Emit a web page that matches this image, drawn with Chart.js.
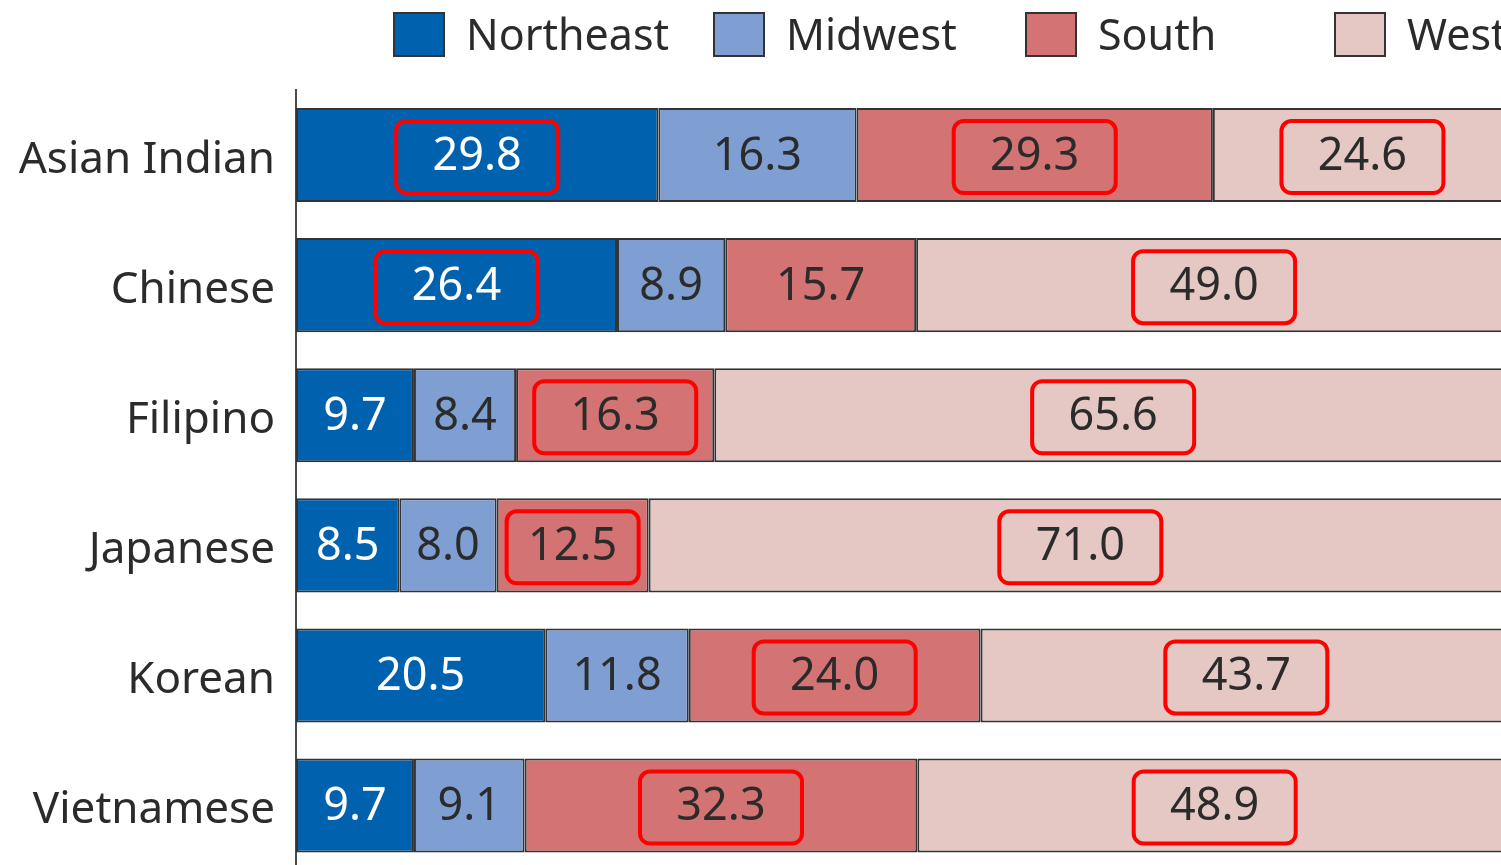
<!DOCTYPE html>
<html>
<head>
<meta charset="utf-8">
<title>Regional distribution by Asian group</title>
<script src="https://cdn.jsdelivr.net/npm/chart.js@4.4.0/dist/chart.umd.min.js"></script>
<style>
    html, body {
        margin: 0;
        padding: 0;
        background: #fff;
        overflow: hidden;
        width: 1501px;
        height: 865px;
    }
    #wrap {
        position: relative;
        width: 1514px;
        height: 918px;
    }
    #legend {
        position: absolute;
        top: 11px;
        left: 393px;
        display: flex;
        white-space: nowrap;
        font-family: 'Noto Sans', 'Open Sans', sans-serif;
        font-size: 43px;
        color: #2b2b2b;
        z-index: 2;
    }
    .legend-item {
        display: flex;
        align-items: center;
        line-height: 46px;
    }
    .legend-item:nth-child(1) { width: 320px; }
    .legend-item:nth-child(2) { width: 312px; }
    .legend-item:nth-child(3) { width: 309px; }
    .legend-item:nth-child(4) { width: 200px; }
    .legend-swatch {
        width: 52px;
        height: 45px;
        border: 2px solid #333;
        box-sizing: border-box;
        margin-right: 21px;
        flex: none;
    }
    /* taller than the window: the category scale keeps ~47px under the
       last label, and the reference crops the chart at the bottom */
    #chartBox {
        position: absolute;
        left: 0;
        top: 0;
        width: 1514px;
        height: 918px;
    }
</style>
</head>
<body>
<div id="wrap">
    <div id="legend"></div>
    <div id="chartBox"><canvas id="chart"></canvas></div>
</div>
<script>
// ============================================================
// Data
// ============================================================

const categories = ['Asian Indian', 'Chinese', 'Filipino', 'Japanese', 'Korean', 'Vietnamese'];
const seriesNames = ['Northeast', 'Midwest', 'South', 'West'];

const northeast = [29.8, 26.4, 9.7, 8.5, 20.5, 9.7];
const midwest   = [16.3, 8.9, 8.4, 8.0, 11.8, 9.1];
const south     = [29.3, 15.7, 16.3, 12.5, 24.0, 32.3];
const west      = [24.6, 49.0, 65.6, 71.0, 43.7, 48.9];

// which values carry a red highlight box
const highlightNortheast = [true, true, false, false, false, false];
const highlightMidwest   = [false, false, false, false, false, false];
const highlightSouth     = [true, false, true, true, true, true];
const highlightWest      = [true, true, true, true, true, true];

const COLORS = ['#0062ae', '#7f9fd2', '#d37373', '#e5c8c4'];
const FONT_FAMILY = "'Noto Sans', 'Open Sans', sans-serif";

const seriesValues = [northeast, midwest, south, west];
const seriesHighlights = [highlightNortheast, highlightMidwest, highlightSouth, highlightWest];

// ============================================================
// HTML legend
// ============================================================

function buildLegend() {
    const legend = document.getElementById('legend');
    seriesNames.forEach((name, i) => {
        legend.innerHTML += `
            <div class="legend-item">
                <span class="legend-swatch" style="background:${COLORS[i]}"></span>
                <span>${name}</span>
            </div>`;
    });
}

// ============================================================
// Value labels + highlight boxes
// ============================================================

function roundRect(ctx, x, y, w, h, r) {
    ctx.beginPath();
    ctx.moveTo(x + r, y);
    ctx.arcTo(x + w, y, x + w, y + h, r);
    ctx.arcTo(x + w, y + h, x, y + h, r);
    ctx.arcTo(x, y + h, x, y, r);
    ctx.arcTo(x, y, x + w, y, r);
    ctx.closePath();
}

const valueLabels = {
    id: 'valueLabels',
    afterDatasetsDraw(chart) {
        const ctx = chart.ctx;
        ctx.save();
        ctx.font = `45px ${FONT_FAMILY}`;
        ctx.textAlign = 'center';
        ctx.textBaseline = 'middle';

        chart.data.datasets.forEach((ds, i) => {
            const meta = chart.getDatasetMeta(i);
            meta.data.forEach((bar, j) => {
                const cx = (bar.x + bar.base) / 2;
                const cy = bar.y;
                const segWidth = Math.abs(bar.x - bar.base);

                if (seriesHighlights[i][j]) {
                    const w = Math.min(162, segWidth - 20);
                    const h = 72;
                    ctx.strokeStyle = '#ff0000';
                    ctx.lineWidth = 4;
                    roundRect(ctx, cx - w / 2, cy - h / 2 + 2, w, h, 10);
                    ctx.stroke();
                }

                ctx.fillStyle = i === 0 ? '#ffffff' : '#2b2b2b';
                ctx.fillText(ds.data[j].toFixed(1), cx, cy + 2);
            });
        });
        ctx.restore();
    }
};

// ============================================================
// Chart
// ============================================================

function drawChart() {
    const ctx = document.getElementById('chart');

    new Chart(ctx, {
        type: 'bar',
        data: {
            labels: categories,
            datasets: seriesNames.map((name, i) => ({
                label: name,
                data: seriesValues[i],
                backgroundColor: COLORS[i],
                borderColor: '#333333',
                borderWidth: 2,
                borderSkipped: false,
                barPercentage: 0.723,
                categoryPercentage: 1
            }))
        },
        options: {
            indexAxis: 'y',
            responsive: true,
            maintainAspectRatio: false,
            animation: false,
            layout: {
                padding: { top: 90, right: 2, bottom: 0, left: 0 }
            },
            plugins: {
                legend: { display: false },
                tooltip: { enabled: false }
            },
            scales: {
                x: {
                    stacked: true,
                    min: 0,
                    max: 100,
                    display: false
                },
                y: {
                    stacked: true,
                    grid: { display: false, drawTicks: false },
                    border: { display: true, color: '#4a4a4a', width: 2 },
                    ticks: {
                        color: '#2b2b2b',
                        padding: 21,
                        labelOffset: 5,
                        font: { family: FONT_FAMILY, size: 44 }
                    },
                    afterFit(scale) {
                        scale.width = 296;
                    }
                }
            }
        },
        plugins: [valueLabels]
    });
}

window.addEventListener('DOMContentLoaded', function() {
    buildLegend();
    drawChart();
});
</script>
</body>
</html>
